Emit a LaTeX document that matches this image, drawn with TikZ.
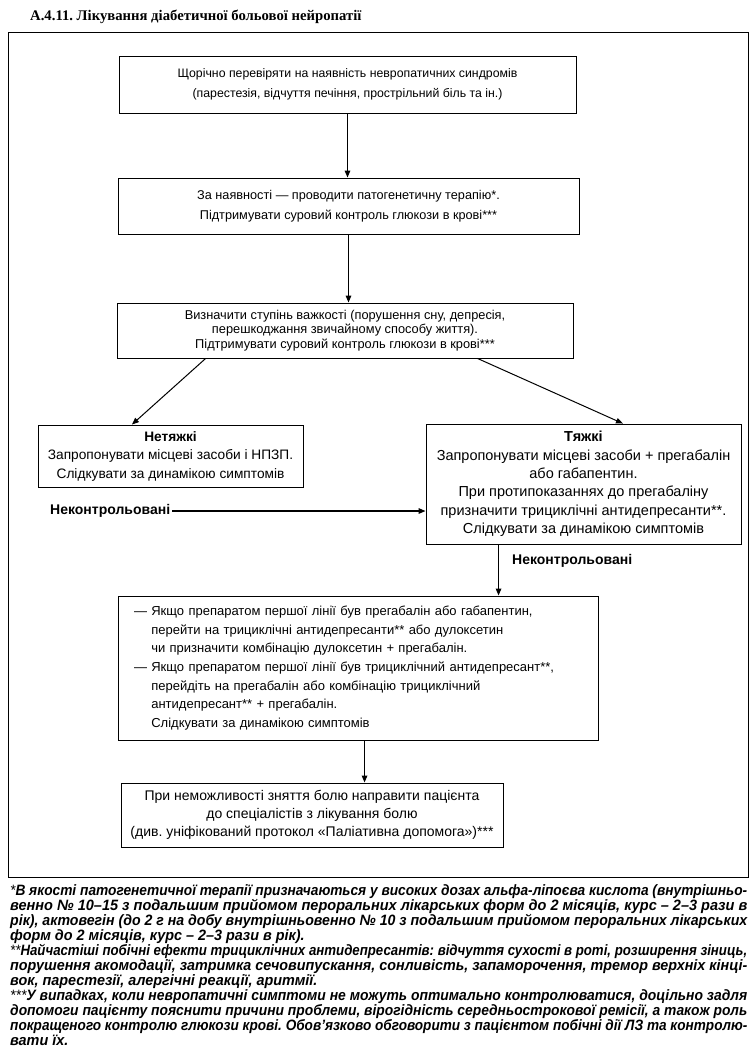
\documentclass[tikz,border=0pt]{standalone}
\usepackage{fontspec}
\usepackage{graphicx}
\setmainfont{Liberation Sans}
\newfontfamily\titlefont{Liberation Serif}
\newfontfamily\fnfont[FakeStretch=0.96]{Liberation Sans}
\usetikzlibrary{arrows.meta,calc}
\newcommand{\fnline}[1]{\resizebox{737pt}{\height}{#1}}
\begin{document}
\frenchspacing
\begin{tikzpicture}[x=1pt,y=-1pt,
 box/.style={draw,line width=0.9pt,inner sep=0pt,align=center},
 arr/.style={line width=1.3pt,-{Triangle[length=7pt,width=5.5pt]}},
 lbl/.style={font=\fontsize{14}{16}\selectfont\bfseries,inner sep=0pt},
 fn/.style={anchor=base west,inner sep=0pt,font=\fontsize{15}{15}\fnfont\bfseries\itshape}]
\useasboundingbox (0,0) rectangle (755,1052);
\fill[white] (0,0) rectangle (755,1052);
% title
\node[anchor=base west,inner sep=0pt,font=\fontsize{14.7}{16}\titlefont\bfseries] (title) at (30,20) {А.4.11. Лікування діабетичної больової нейропатії};
% frame
\draw[line width=1pt] (8,32) rectangle (748,877);
% boxes
\node[box,minimum width=457pt,minimum height=57pt,font=\fontsize{12.3}{20}\selectfont] (b1) at (347.5,84.5)
 {Щорічно перевіряти на наявність невропатичних синдромів\\(парестезія, відчуття печіння, прострільний біль та ін.)};
\node[box,minimum width=461pt,minimum height=56pt,font=\fontsize{12.7}{20}\selectfont] (b2) at (348.5,206)
 {За наявності — проводити патогенетичну терапію*.\\Підтримувати суровий контроль глюкози в крові***};
\node[box,minimum width=456pt,minimum height=55pt,font=\fontsize{12.8}{14.5}\selectfont] (b3) at (345,330.5)
 {Визначити ступінь важкості (порушення сну, депресія,\\перешкоджання звичайному способу життя).\\Підтримувати суровий контроль глюкози в крові***};
\node[box,minimum width=265pt,minimum height=62pt,font=\fontsize{13.7}{18.5}\selectfont] (b4) at (170.5,456)
 {\textbf{Нетяжкі}\\Запропонувати місцеві засоби і НПЗП.\\Слідкувати за динамікою симптомів};
\node[box,minimum width=315pt,minimum height=120pt,font=\fontsize{14.5}{18.4}\selectfont] (b5) at (583.5,484)
 {\textbf{Тяжкі}\\Запропонувати місцеві засоби + прегабалін\\або габапентин.\\При протипоказаннях до прегабаліну\\призначити трициклічні антидепресанти**.\\Слідкувати за динамікою симптомів};
\node[box,minimum width=480pt,minimum height=144pt,align=left,text width=448pt,inner xsep=16pt,font=\fontsize{13}{18.7}\selectfont] (b6) at (358,668)
 {— Якщо препаратом першої лінії був прегабалін або габапентин,\\
 \phantom{— }перейти на трициклічні антидепресанти** або дулоксетин\\
 \phantom{— }чи призначити комбінацію дулоксетин + прегабалін.\\
 — Якщо препаратом першої лінії був трициклічний антидепресант**,\\
 \phantom{— }перейдіть на прегабалін або комбінацію трициклічний\\
 \phantom{— }антидепресант** + прегабалін.\\
 \phantom{— }Слідкувати за динамікою симптомів};
\node[box,minimum width=382pt,minimum height=64pt,font=\fontsize{14}{18}\selectfont] (b7) at (312,815)
 {При неможливості зняття болю направити пацієнта\\до спеціалістів з лікування болю\\(див. уніфікований протокол «Паліативна допомога»)***};
% labels
\node[lbl,anchor=west] (nk1) at (50,511) {Неконтрольовані};
\node[lbl,anchor=west] (nk2) at (512,561) {Неконтрольовані};
% connectors
\draw[arr] (b1.south) -- (b1.south |- b2.north);
\draw[arr] (b2.south) -- (b2.south |- b3.north);
\draw[arr,line width=1pt] ($(b3.south west)!0.195!(b3.south east)$) -- ($(b4.north west)!0.355!(b4.north east)$);
\draw[arr,line width=1pt] ($(b3.south west)!0.79!(b3.south east)$) -- ($(b5.north west)!0.625!(b5.north east)$);
\draw[arr] ([xshift=2pt]nk1.east) -- (nk1.east -| b5.west);
\coordinate (v1) at ($(b5.south west)+(73,0)$);
\draw[arr] (v1) -- (v1 |- b6.north);
\coordinate (v2) at ($(b6.south west)+(247,0)$);
\draw[arr] (v2) -- (v2 |- b7.north);
% footnotes
\node[fn] (f1) at (10,895) {\fnline{{\mdseries*}В якості патогенетичної терапії призначаються у високих дозах альфа-ліпоєва кислота (внутрішньо-}};
\node[fn] (f2) at (10,910) {\fnline{венно № 10–15 з подальшим прийомом пероральних лікарських форм до 2 місяців, курс – 2–3 рази в}};
\node[fn] (f3) at (10,925) {\fnline{рік), актовегін (до 2 г на добу внутрішньовенно № 10 з подальшим прийомом пероральних лікарських}};
\node[fn] (f4) at (10,940) {форм до 2 місяців, курс – 2–3 рази в рік).};
\node[fn] (f5) at (10,955) {\fnline{{\mdseries**}Найчастіші побічні ефекти трициклічних антидепресантів: відчуття сухості в роті, розширення зіниць,}};
\node[fn] (f6) at (10,970) {\fnline{порушення акомодації, затримка сечовипускання, сонливість, запаморочення, тремор верхніх кінці-}};
\node[fn] (f7) at (10,985) {вок, парестезії, алергічні реакції, аритмії.};
\node[fn] (f8) at (10,1000) {\fnline{{\mdseries***}У випадках, коли невропатичні симптоми не можуть оптимально контролюватися, доцільно задля}};
\node[fn] (f9) at (10,1015) {\fnline{допомоги пацієнту пояснити причини проблеми, вірогідність середньострокової ремісії, а також роль}};
\node[fn] (f10) at (10,1030) {\fnline{покращеного контролю глюкози крові. Обов’язково обговорити з пацієнтом побічні дії ЛЗ та контролю-}};
\node[fn] (f11) at (10,1045) {вати їх.};
\end{tikzpicture}
\end{document}
